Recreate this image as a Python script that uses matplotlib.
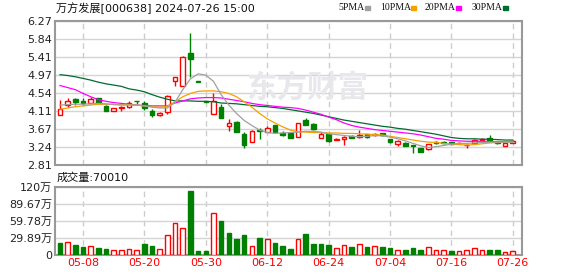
import matplotlib.pyplot as plt
from matplotlib.patches import Rectangle

plt.rcParams['font.family'] = ['DejaVu Sans', 'Noto Sans CJK SC']

dates = ['04-30',
         '05-06', '05-07', '05-08', '05-09', '05-10', '05-13', '05-14', '05-15', '05-16', '05-17',
         '05-20', '05-21', '05-22', '05-23', '05-24', '05-27', '05-28', '05-29', '05-30', '05-31',
         '06-03', '06-04', '06-05', '06-06', '06-07', '06-11', '06-12', '06-13', '06-14', '06-17',
         '06-18', '06-19', '06-20', '06-21', '06-24', '06-25', '06-26', '06-27', '06-28', '07-01',
         '07-02', '07-03', '07-04', '07-05', '07-08', '07-09', '07-10', '07-11', '07-12', '07-15',
         '07-16', '07-17', '07-18', '07-19', '07-22', '07-23', '07-24', '07-25', '07-26']

opens = [4.00, 4.24, 4.40, 4.34, 4.31, 4.41, 4.23, 4.11, 4.19, 4.20,
         4.35, 4.29, 4.11, 4.00, 4.09, 4.84, 4.72, 5.49, 4.82, 4.34,
         4.03, 4.21, 3.75, 3.85, 3.55, 3.37, 3.64, 3.61, 3.77, 3.59,
         3.57, 3.49, 3.89, 3.79, 3.45, 3.55, 3.42, 3.43, 3.50, 3.48,
         3.55, 3.53, 3.57, 3.43, 3.31, 3.35, 3.28, 3.21, 3.19, 3.36,
         3.37, 3.36, 3.34, 3.29, 3.35, 3.42, 3.45, 3.36, 3.27, 3.35]
highs = [4.36, 4.42, 4.41, 4.41, 4.44, 4.42, 4.24, 4.19, 4.22, 4.35,
         4.35, 4.35, 4.15, 4.08, 4.48, 4.93, 5.43, 5.99, 4.82, 4.34,
         4.53, 4.27, 3.92, 3.86, 3.61, 3.64, 3.69, 3.74, 3.78, 3.62,
         3.60, 3.82, 3.93, 3.82, 3.60, 3.56, 3.47, 3.50, 3.52, 3.64,
         3.56, 3.58, 3.59, 3.44, 3.40, 3.36, 3.28, 3.22, 3.32, 3.38,
         3.38, 3.37, 3.37, 3.32, 3.43, 3.45, 3.53, 3.37, 3.34, 3.40]
lows = [4.00, 4.21, 4.24, 4.25, 4.30, 4.29, 4.11, 4.10, 4.11, 4.19,
        4.28, 4.13, 3.96, 3.99, 4.03, 4.72, 4.72, 4.93, 4.81, 4.33,
        4.03, 3.94, 3.63, 3.60, 3.23, 3.36, 3.43, 3.60, 3.60, 3.50,
        3.45, 3.48, 3.76, 3.64, 3.45, 3.37, 3.40, 3.29, 3.45, 3.47,
        3.45, 3.51, 3.50, 3.34, 3.26, 3.26, 3.11, 3.12, 3.18, 3.31,
        3.32, 3.31, 3.31, 3.21, 3.33, 3.40, 3.38, 3.31, 3.26, 3.34]
closes = [4.15, 4.35, 4.32, 4.31, 4.40, 4.30, 4.11, 4.18, 4.21, 4.29,
          4.34, 4.17, 4.01, 4.07, 4.47, 4.92, 5.41, 5.35, 4.81, 4.33,
          4.35, 3.95, 3.81, 3.61, 3.29, 3.63, 3.62, 3.71, 3.61, 3.54,
          3.47, 3.81, 3.77, 3.67, 3.55, 3.39, 3.44, 3.49, 3.47, 3.53,
          3.49, 3.55, 3.52, 3.36, 3.39, 3.27, 3.26, 3.13, 3.31, 3.34,
          3.35, 3.32, 3.35, 3.30, 3.40, 3.43, 3.39, 3.33, 3.33, 3.39]

# volume in 万手, 1 = red (close above previous close)
volumes = [21.0, 22.8, 17.5, 14.6, 15.8, 12.3, 10.5, 8.2, 8.2, 9.9,
           8.2, 19.3, 16.3, 10.5, 35.0, 55.5, 47.9, 112.0, 7.0, 7.0,
           73.0, 59.5, 38.5, 28.0, 35.0, 15.8, 29.8, 28.0, 21.0, 15.8,
           10.5, 28.0, 36.8, 19.3, 19.3, 17.5, 12.3, 17.5, 14.0, 18.7,
           14.0, 15.8, 14.0, 12.3, 8.2, 8.8, 12.3, 8.8, 14.0, 8.2,
           8.2, 7.0, 6.4, 8.2, 11.7, 8.2, 8.2, 8.2, 4.7, 7.0]
vol_up = [0, 1, 0, 0, 1, 0, 0, 1, 1, 1,
          1, 0, 0, 1, 1, 1, 1, 0, 0, 0,
          1, 0, 0, 0, 0, 1, 0, 1, 0, 0,
          0, 1, 0, 0, 0, 0, 1, 1, 0, 1,
          0, 1, 0, 0, 1, 0, 0, 0, 1, 1,
          1, 0, 1, 1, 1, 1, 0, 0, 1, 1]

ma5 = [4.25, 4.26, 4.27, 4.27, 4.28, 4.29, 4.28, 4.26, 4.25, 4.25,
       4.25, 4.23, 4.20, 4.18, 4.18, 4.32, 4.62, 4.88, 5.00, 4.97,
       4.82, 4.50, 4.25, 4.05, 3.88, 3.76, 3.65, 3.59, 3.57, 3.58,
       3.59, 3.60, 3.62, 3.62, 3.60, 3.56, 3.54, 3.52, 3.50, 3.49,
       3.50, 3.52, 3.51, 3.48, 3.44, 3.39, 3.33, 3.27, 3.23, 3.25,
       3.28, 3.31, 3.33, 3.33, 3.34, 3.35, 3.36, 3.36, 3.36, 3.36]
ma10 = [4.15, 4.18, 4.21, 4.23, 4.25, 4.27, 4.27, 4.27, 4.26, 4.26,
        4.25, 4.23, 4.21, 4.20, 4.22, 4.33, 4.45, 4.53, 4.58, 4.59,
        4.59, 4.57, 4.53, 4.45, 4.33, 4.20, 4.05, 3.92, 3.82, 3.73,
        3.65, 3.61, 3.60, 3.59, 3.59, 3.58, 3.58, 3.57, 3.57, 3.56,
        3.55, 3.54, 3.53, 3.50, 3.47, 3.44, 3.41, 3.38, 3.36, 3.35,
        3.33, 3.31, 3.30, 3.29, 3.30, 3.32, 3.34, 3.35, 3.36, 3.36]
ma20 = [4.72, 4.67, 4.62, 4.53, 4.45, 4.38, 4.34, 4.31, 4.29, 4.27,
        4.25, 4.24, 4.23, 4.23, 4.23, 4.30, 4.35, 4.40, 4.42, 4.43,
        4.43, 4.42, 4.39, 4.36, 4.33, 4.29, 4.26, 4.24, 4.22, 4.20,
        4.19, 4.17, 4.13, 4.08, 4.03, 3.96, 3.90, 3.82, 3.76, 3.72,
        3.69, 3.66, 3.64, 3.62, 3.60, 3.58, 3.56, 3.53, 3.49, 3.45,
        3.43, 3.40, 3.39, 3.38, 3.38, 3.38, 3.37, 3.37, 3.37, 3.37]
ma30 = [4.98, 4.96, 4.93, 4.89, 4.85, 4.80, 4.76, 4.73, 4.70, 4.64,
        4.61, 4.57, 4.50, 4.44, 4.39, 4.35, 4.35, 4.35, 4.34, 4.34,
        4.33, 4.30, 4.29, 4.28, 4.26, 4.24, 4.22, 4.21, 4.19, 4.17,
        4.14, 4.11, 4.08, 4.05, 4.01, 3.97, 3.93, 3.89, 3.86, 3.83,
        3.80, 3.77, 3.74, 3.72, 3.69, 3.67, 3.64, 3.61, 3.58, 3.55,
        3.51, 3.47, 3.45, 3.44, 3.44, 3.43, 3.43, 3.42, 3.41, 3.41]

price_ticks = [2.81, 3.24, 3.67, 4.11, 4.54, 4.97, 5.41, 5.84, 6.27]
vol_ticks = [0, 29.89, 59.78, 89.67, 119.56]
vol_tick_labels = ['0', '29.89万', '59.78万', '89.67万', '120万']
date_ticks = ['05-08', '05-20', '05-30', '06-12', '06-24', '07-04', '07-16', '07-26']

RED = '#ff0000'
GREEN = '#008000'
FRAME = '#999999'
GRID = '#d4d4d4'

W, H = 578, 276
fig = plt.figure(figsize=(W / 100, H / 100), dpi=100)
ax = fig.add_axes([55 / W, 1 - 165 / H, 467 / W, 144 / H])
vax = fig.add_axes([55 / W, 1 - 255 / H, 467 / W, 68 / H])

x = list(range(len(dates)))
tick_idx = [dates.index(d) for d in date_ticks]

# candles
for i in x:
    up = closes[i] >= opens[i]
    c = RED if up else GREEN
    ax.vlines(i, lows[i], highs[i], color=c, lw=1, zorder=3)
    bottom = min(opens[i], closes[i])
    height = max(abs(closes[i] - opens[i]), 0.006)
    ax.bar(i, height, 0.6, bottom=bottom, facecolor='white' if up else c,
           edgecolor=c, lw=1, zorder=4)

ax.plot(x, ma30, color='#006b2e', lw=0.9, zorder=5)
ax.plot(x, ma20, color='#ff00ff', lw=0.9, zorder=5)
ax.plot(x, ma10, color='#f5a000', lw=0.9, zorder=5)
ax.plot(x, ma5, color='#a0a0a0', lw=0.9, zorder=5)

ax.text(0.54, 0.535, '东方财富', transform=ax.transAxes, ha='center', va='center',
        fontsize=22, fontweight='bold', color='#e8e8ec', family='Noto Sans CJK SC', zorder=1)

ax.set_xlim(-0.65, 60.2)
ax.set_ylim(price_ticks[0], price_ticks[-1])
ax.set_yticks(price_ticks)
ax.set_yticklabels(['%.2f' % v for v in price_ticks], fontsize=8, color='#222222')
ax.set_xticks(tick_idx)
ax.set_xticklabels([])

# volume
for i in x:
    c = RED if vol_up[i] else GREEN
    vax.bar(i, volumes[i], 0.6, facecolor='white' if vol_up[i] else c,
            edgecolor=c, lw=1, zorder=3)
vax.set_xlim(-0.65, 60.2)
vax.set_ylim(0, vol_ticks[-1])
vax.set_yticks(vol_ticks)
vax.set_yticklabels(vol_tick_labels, fontsize=8, color='#222222')
vax.set_xticks(tick_idx)
vax.set_xticklabels(date_ticks, fontsize=8, color=RED)

for a in (ax, vax):
    a.tick_params(length=0, pad=2)
    a.grid(axis='y', color=GRID, lw=1, zorder=0)
    a.grid(axis='x', color='#cccccc', lw=1, linestyle=(0, (4, 3)), zorder=0)
    a.set_axisbelow(True)
    for s in a.spines.values():
        s.set_color(FRAME)
        s.set_linewidth(1.5)

fig.text(56 / W, 1 - 8 / H, '万方发展[000638] 2024-07-26 15:00', fontsize=8,
         va='center', ha='left', color='#111111')
fig.text(57 / W, 1 - 178 / H, '成交量:70010', fontsize=8, va='center', ha='left', color='#111111')

legend = [('5PMA', '#a0a0a0', 338), ('10PMA', '#f5a000', 380),
          ('20PMA', '#ff00ff', 425), ('30PMA', '#006b2e', 472)]
for name, col, px in legend:
    t = fig.text(px / W, 1 - 8 / H, name, fontsize=7, va='center', ha='left',
                 color='#111111', family='Liberation Serif')
    fig.add_artist(Rectangle(((px + 27 + (4 if len(name) > 4 else 0)) / W, 1 - 10 / H), 5 / W, 4 / H,
                             transform=fig.transFigure, color=col))

fig.savefig('out.png', dpi=100)
